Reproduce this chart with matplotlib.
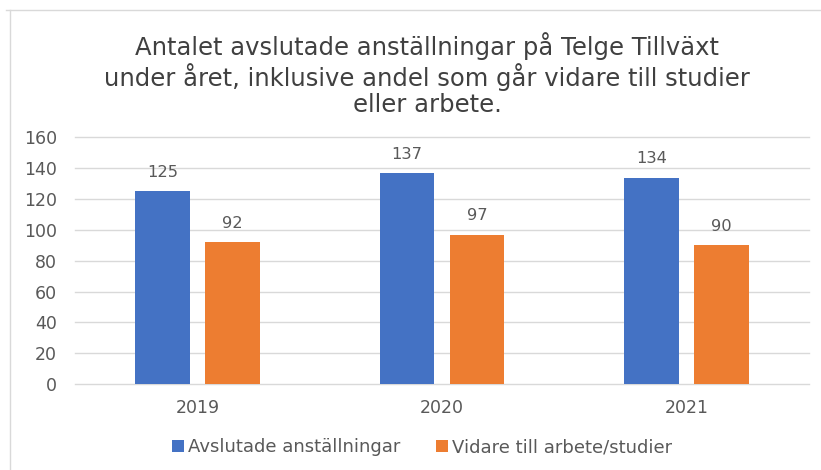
import matplotlib
matplotlib.use("Agg")
import matplotlib.pyplot as plt
import numpy as np
from matplotlib.lines import Line2D

plt.rcParams['font.family'] = ['DejaVu Sans']

years = ["2019", "2020", "2021"]
avslutade = [125, 137, 134]
vidare = [92, 97, 90]
series_names = ["Avslutade anställningar", "Vidare till arbete/studier"]
title = ("Antalet avslutade anställningar på Telge Tillväxt\n"
         "under året, inklusive andel som går vidare till studier\n"
         "eller arbete.")

blue = "#4472C4"
orange = "#ED7D31"
text_col = "#595959"

fig = plt.figure(figsize=(8.21, 4.70), dpi=100)
ax = fig.add_axes([75/821, 1-384/470, (809-75)/821, (384-137.5)/470])

x = np.arange(len(years))
w = 0.224
off = 0.143
b1 = ax.bar(x - off, avslutade, w, color=blue, label=series_names[0], zorder=3)
b2 = ax.bar(x + off, vidare, w, color=orange, label=series_names[1], zorder=3)

ax.bar_label(b1, padding=8, fontsize=11.7, color=text_col)
ax.bar_label(b2, padding=8, fontsize=11.7, color=text_col)

ax.set_xlim(-0.5, 2.5)
ax.set_ylim(0, 160)
ax.set_yticks(range(0, 161, 20))
ax.set_xticks(x)
ax.set_xticklabels(years)
ax.tick_params(axis='both', length=0, labelsize=12.5, colors=text_col)
ax.tick_params(axis='x', pad=11)
ax.tick_params(axis='y', pad=13)
ax.grid(axis='y', color="#D9D9D9", linewidth=1, zorder=0)
for gl in ax.get_ygridlines():
    gl.set_clip_on(False)
for s in ax.spines.values():
    s.set_visible(False)

fig.text(427/821, 1-75/470, title, ha='center', va='center', fontsize=17.5,
         color="#404040", linespacing=1.12)

fig.legend(handles=[b1, b2], loc='center', bbox_to_anchor=(422/821, 1-447/470),
           ncol=2, frameon=False, fontsize=13, handlelength=0.67, handleheight=0.67,
           handletextpad=0.2, columnspacing=2.0, labelcolor=text_col)

# outer border
fig.add_artist(Line2D([10/821, 10/821], [0, 1-10/470], transform=fig.transFigure,
                      color="#D9D9D9", linewidth=1))
fig.add_artist(Line2D([6/821, 1], [1-10/470, 1-10/470], transform=fig.transFigure,
                      color="#D9D9D9", linewidth=1))

fig.savefig("out.png", dpi=100)
